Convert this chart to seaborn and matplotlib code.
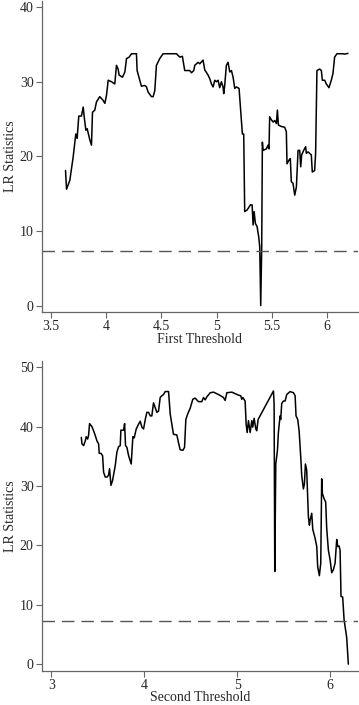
import matplotlib
matplotlib.use("Agg")
import matplotlib.pyplot as plt
import seaborn as sns

# first threshold search
first_x = [3.633, 3.642, 3.672, 3.702, 3.717, 3.726, 3.738, 3.753, 3.777, 3.793, 3.802, 3.817,
           3.829, 3.853, 3.868, 3.877, 3.898, 3.913, 3.943, 3.973, 3.989, 4.004, 4.019, 4.049,
           4.079, 4.094, 4.109, 4.118, 4.148, 4.170, 4.185, 4.209, 4.230, 4.275, 4.281, 4.305,
           4.320, 4.350, 4.366, 4.381, 4.411, 4.426, 4.441, 4.456, 4.486, 4.516, 4.637, 4.667,
           4.691, 4.712, 4.758, 4.773, 4.794, 4.803, 4.833, 4.848, 4.878, 4.893, 4.923, 4.939,
           4.954, 4.969, 4.984, 4.999, 5.014, 5.029, 5.044, 5.059, 5.065, 5.074, 5.089, 5.104,
           5.120, 5.135, 5.150, 5.165, 5.180, 5.204, 5.216, 5.234, 5.246, 5.255, 5.276, 5.294,
           5.306, 5.322, 5.331, 5.340, 5.352, 5.367, 5.382, 5.391, 5.400, 5.409, 5.415, 5.421,
           5.451, 5.466, 5.475, 5.481, 5.497, 5.512, 5.527, 5.542, 5.551, 5.560, 5.587, 5.617,
           5.632, 5.638, 5.656, 5.668, 5.677, 5.692, 5.708, 5.723, 5.738, 5.753, 5.762, 5.771,
           5.789, 5.807, 5.813, 5.828, 5.843, 5.858, 5.867, 5.888, 5.897, 5.909, 5.934, 5.949,
           5.958, 5.979, 5.994, 6.018, 6.039, 6.054, 6.069, 6.090, 6.145, 6.160, 6.190]
first_lr = [18.1, 15.6, 16.8, 19.9, 21.9, 23.0, 22.4, 25.4, 25.4, 26.6, 25.3, 23.5,
            23.7, 22.2, 21.5, 25.9, 26.2, 27.3, 28.0, 27.5, 27.1, 28.2, 30.2, 30.0,
            29.7, 32.2, 31.7, 30.9, 30.6, 31.3, 33.1, 33.3, 33.75, 33.75, 31.5, 30.2,
            29.4, 29.5, 29.3, 28.6, 28.0, 28.0, 28.8, 32.2, 33.1, 33.75, 33.75, 33.3,
            33.4, 31.5, 31.5, 31.2, 31.5, 32.2, 32.6, 32.4, 32.9, 31.6, 30.9, 30.4,
            29.7, 29.3, 30.2, 30.0, 30.2, 29.2, 30.0, 29.3, 28.4, 29.5, 32.2, 32.6,
            31.3, 31.5, 30.6, 29.1, 29.3, 29.1, 26.6, 23.0, 23.0, 12.6, 12.8, 13.2,
            13.5, 13.5, 10.8, 12.6, 11.0, 10.6, 9.2, 7.9, 0.0, 7.9, 21.9, 20.8,
            21.0, 21.5, 21.0, 25.3, 24.9, 24.6, 24.8, 24.4, 26.2, 24.2, 24.0, 23.9,
            23.3, 19.0, 19.5, 19.7, 16.6, 16.4, 14.8, 15.9, 20.8, 20.8, 18.6, 20.2,
            20.8, 21.3, 20.4, 20.6, 20.4, 20.2, 17.9, 18.1, 20.4, 31.5, 31.7, 31.5,
            30.2, 30.2, 29.7, 29.2, 30.2, 31.1, 33.3, 33.75, 33.75, 33.7, 33.8]

# second threshold search
second_x = [3.323, 3.330, 3.348, 3.366, 3.376, 3.391, 3.401, 3.412, 3.437, 3.455, 3.473, 3.491,
            3.509, 3.516, 3.534, 3.552, 3.563, 3.581, 3.599, 3.616, 3.627, 3.642, 3.659, 3.688,
            3.706, 3.724, 3.742, 3.749, 3.778, 3.789, 3.799, 3.814, 3.832, 3.860, 3.878, 3.892,
            3.914, 3.939, 3.957, 3.975, 3.993, 4.014, 4.029, 4.047, 4.065, 4.082, 4.100, 4.118,
            4.136, 4.154, 4.172, 4.190, 4.208, 4.226, 4.262, 4.280, 4.297, 4.315, 4.351, 4.369,
            4.387, 4.416, 4.434, 4.448, 4.470, 4.495, 4.523, 4.548, 4.584, 4.620, 4.638, 4.656,
            4.674, 4.710, 4.746, 4.799, 4.853, 4.871, 4.889, 4.943, 5.014, 5.039, 5.050, 5.061,
            5.086, 5.097, 5.108, 5.122, 5.140, 5.158, 5.168, 5.183, 5.201, 5.211, 5.226, 5.391,
            5.398, 5.405, 5.416, 5.434, 5.444, 5.462, 5.469, 5.480, 5.498, 5.516, 5.534, 5.570,
            5.606, 5.624, 5.634, 5.652, 5.667, 5.685, 5.695, 5.713, 5.724, 5.735, 5.749, 5.767,
            5.778, 5.785, 5.803, 5.814, 5.839, 5.857, 5.867, 5.885, 5.900, 5.910, 5.918, 5.935,
            5.953, 5.964, 5.982, 6.000, 6.018, 6.036, 6.054, 6.072, 6.082, 6.097, 6.108, 6.118,
            6.136, 6.151, 6.179, 6.197]
second_lr = [38.2, 37.1, 36.8, 37.6, 38.3, 37.9, 38.5, 40.5, 40.0, 39.3, 38.5, 37.6,
             37.1, 35.5, 35.5, 35.1, 32.3, 31.5, 31.5, 31.8, 32.9, 30.1, 30.9, 33.4,
             35.7, 36.6, 36.8, 39.4, 39.4, 40.5, 36.8, 36.5, 35.1, 33.7, 38.3, 38.1,
             39.6, 40.4, 40.9, 39.9, 39.6, 41.4, 42.4, 42.4, 41.8, 41.8, 44.0, 43.2,
             42.4, 42.6, 44.9, 45.2, 45.4, 45.9, 45.9, 42.1, 40.4, 38.7, 38.6, 37.3,
             36.1, 36.0, 36.5, 41.2, 42.2, 43.1, 44.6, 44.8, 44.2, 44.2, 44.9, 44.5,
             45.0, 45.7, 45.8, 45.4, 44.9, 44.4, 45.7, 45.8, 45.3, 45.2, 44.6, 44.9,
             44.3, 40.4, 39.0, 41.0, 39.0, 41.0, 39.9, 41.4, 39.6, 39.3, 41.2, 46.0,
             43.8, 15.6, 33.7, 36.0, 39.0, 41.8, 41.2, 43.9, 44.3, 44.3, 45.4, 45.9,
             45.7, 45.2, 41.8, 41.2, 39.3, 34.8, 31.8, 29.5, 30.3, 33.7, 32.6, 24.8,
             23.4, 24.2, 25.4, 22.7, 21.2, 19.8, 16.4, 14.9, 17.0, 31.2, 28.7, 27.9,
             27.3, 22.9, 19.2, 17.6, 15.4, 15.9, 17.0, 21.0, 19.8, 19.9, 19.2, 11.4,
             11.3, 7.5, 4.5, 0.0]

crit_value = 7.35

sns.set_style("ticks")
plt.rcParams["font.family"] = ["Liberation Serif", "DejaVu Serif"]

fig = plt.figure(figsize=(3.59, 7.05), dpi=100)
ax1 = fig.add_axes([0.117, 0.5574, 0.880, 0.441])
ax2 = fig.add_axes([0.117, 0.0485, 0.880, 0.4395])

panels = [
    (ax1, first_x, first_lr, "First Threshold", (3.42, 6.28), (-0.86, 40.8),
     [3.5, 4, 4.5, 5, 5.5, 6], ["3.5", "4", "4.5", "5", "5.5", "6"], [0, 10, 20, 30, 40], 0),
    (ax2, second_x, second_lr, "Second Threshold", (2.90, 6.30), (-1.12, 51.05),
     [3, 4, 5, 6], ["3", "4", "5", "6"], [0, 10, 20, 30, 40, 50], -1),
]

for ax, xs, ys, xlabel, xlim, ylim, xt, xtl, yt, lpad in panels:
    sns.lineplot(x=xs, y=ys, ax=ax, sort=False, estimator=None, color="black", linewidth=1.1)
    ax.axhline(crit_value, color="#555555", linewidth=1.0, dashes=(9, 5))
    ax.set_xlim(*xlim)
    ax.set_ylim(*ylim)
    ax.set_xticks(xt)
    ax.set_xticklabels(xtl)
    ax.set_yticks(yt)
    ax.set_xlabel(xlabel, fontsize=10, labelpad=lpad)
    ax.set_ylabel("LR Statistics", fontsize=10, labelpad=2)
    ax.tick_params(labelsize=10, length=4, width=0.8, color="#666666", pad=2)
    sns.despine(ax=ax)
    for side in ["left", "bottom"]:
        ax.spines[side].set_color("#666666")
        ax.spines[side].set_linewidth(0.9)

fig.savefig("out.png", dpi=100)
